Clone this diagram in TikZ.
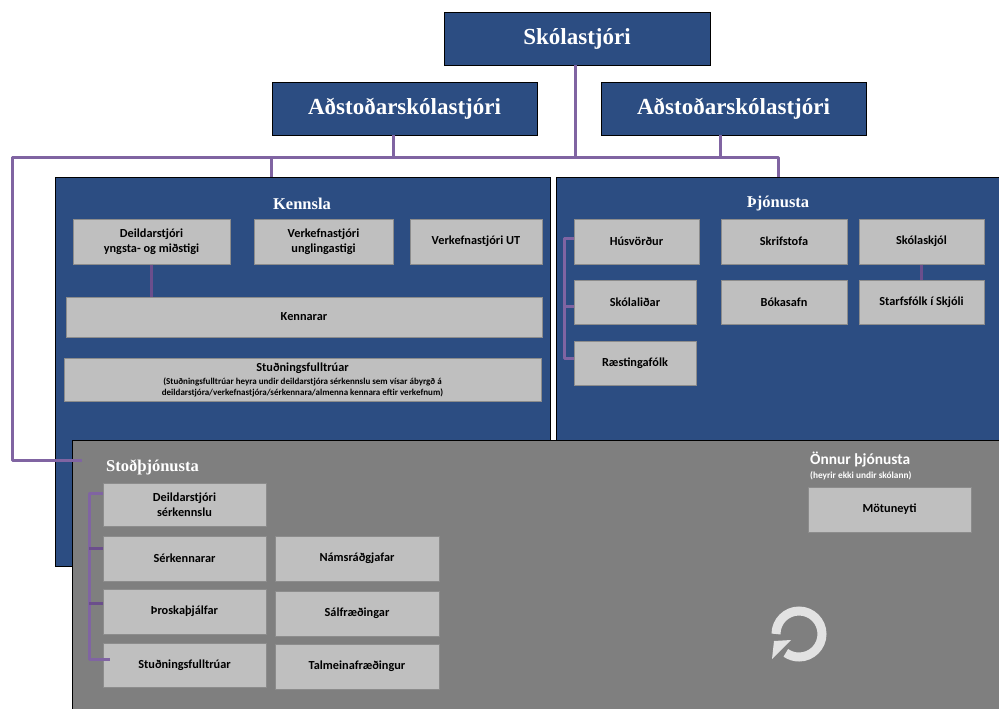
\documentclass[tikz,border=0pt]{standalone}
\usepackage{fontspec}
\setmainfont{Carlito}
\newfontfamily\titlefont{Liberation Serif}
\definecolor{panelblue}{HTML}{2C4D82}
\definecolor{panelgray}{HTML}{7F7F7F}
\definecolor{boxgray}{HTML}{BFBFBF}
\definecolor{boxedge}{HTML}{8C8C8C}
\definecolor{linkpurple}{HTML}{8064A2}
\definecolor{linkdark}{HTML}{6B4E8C}
\definecolor{arrowgray}{HTML}{E2E2E2}
\tikzset{
  headbox/.style={draw=black, fill=panelblue, text=white, inner sep=0pt,
    font=\titlefont\bfseries\fontsize{23}{27}\selectfont},
  panel/.style={draw=black, line width=1pt, inner sep=0pt},
  paneltitle/.style={text=white, inner sep=0pt, font=\titlefont\bfseries\fontsize{16.5}{19}\selectfont},
  staff/.style={draw=boxedge, line width=1pt, fill=boxgray, inner sep=0pt, align=center,
    font=\bfseries\fontsize{12.3}{15}\selectfont},
  link/.style={draw=linkpurple, line width=3pt},
  linkin/.style={draw=linkdark, line width=3pt}
}
\begin{document}
\begin{tikzpicture}[x=1pt, y=-1pt]
  \useasboundingbox (0,0) rectangle (999,709);

  % panels
  \node[panel, fill=panelblue, minimum width=495pt, minimum height=389pt] (kennsla) at (302.5,371.5) {};
  \node[panel, fill=panelblue, minimum width=443pt, minimum height=273pt] (thjon) at (777.5,313.5) {};
  \node[panel, fill=panelgray, minimum width=927pt, minimum height=269pt] (stod) at (535.5,574.5) {};

  % top of the chart
  \node[headbox, minimum width=266pt, minimum height=53pt] (skola) at (577,38.5) {Skólastjóri};
  \node[headbox, minimum width=265pt, minimum height=53pt] (adst1) at (404.5,108.5) {Aðstoðarskólastjóri};
  \node[headbox, minimum width=265pt, minimum height=53pt] (adst2) at (733.5,108.5) {Aðstoðarskólastjóri};

  \node[paneltitle] (kennslat) at (302,204) {Kennsla};
  \node[paneltitle] (thjont) at (778,204) {Þjónusta};
  \node[paneltitle, anchor=west] (stodt) at (106,467) {Stoðþjónusta};
  \node[anchor=west, text=white, inner sep=0pt, font=\bfseries\fontsize{15.4}{18}\selectfont] (onnur) at (810,460) {Önnur þjónusta};
  \node[anchor=west, text=white, inner sep=0pt, font=\bfseries\fontsize{9.3}{10}\selectfont] (onnursub) at (810,476) {(heyrir ekki undir skólann)};

  % Kennsla
  \node[staff, minimum width=157pt, minimum height=45pt] (deild) at (151.5,241.5) {Deildarstjóri\\yngsta- og miðstigi};
  \node[staff, minimum width=139pt, minimum height=45pt] (verk) at (323.5,241.5) {Verkefnastjóri\\unglingastigi};
  \node[staff, minimum width=132pt, minimum height=45pt] (verkut) at (476,241.5) {Verkefnastjóri UT};
  \node[staff, minimum width=476pt, minimum height=40pt] (kenn) at (304,317) {Kennarar};
  \node[staff, minimum width=477pt, minimum height=43pt] (studn) at (302.5,379.5) {Stuðningsfulltrúar\\[-2pt]
    \fontsize{9}{11}\selectfont (Stuðningsfulltrúar heyra undir deildarstjóra sérkennslu sem vísar ábyrgð á\\[-4pt]
    \fontsize{9}{11}\selectfont deildarstjóra/verkefnastjóra/sérkennara/almenna kennara eftir verkefnum)};

  % Þjónusta
  \node[staff, minimum width=125pt, minimum height=45pt] (hus) at (636.5,241.5) {Húsvörður};
  \node[staff, minimum width=126pt, minimum height=45pt] (skrif) at (784,241.5) {Skrifstofa};
  \node[staff, minimum width=125pt, minimum height=45pt] (skjol) at (921.5,241.5) {Skólaskjól};
  \node[staff, minimum width=122pt, minimum height=44pt] (lidar) at (635,302) {Skólaliðar};
  \node[staff, minimum width=126pt, minimum height=44pt] (boka) at (784,302) {Bókasafn};
  \node[staff, minimum width=125pt, minimum height=44pt] (starf) at (921.5,302) {Starfsfólk í Skjóli};
  \node[staff, minimum width=122pt, minimum height=44pt] (raest) at (635,363) {Ræstingafólk};

  % Stoðþjónusta
  \node[staff, minimum width=163pt, minimum height=43pt] (deildsk) at (184.5,504.5) {Deildarstjóri\\sérkennslu};
  \node[staff, minimum width=163pt, minimum height=45pt] (serk) at (184.5,558.5) {Sérkennarar};
  \node[staff, minimum width=163pt, minimum height=45pt] (thros) at (184.5,611.5) {Þroskaþjálfar};
  \node[staff, minimum width=163pt, minimum height=44pt] (stud) at (184.5,665) {Stuðningsfulltrúar};
  \node[staff, minimum width=164pt, minimum height=45pt] (nams) at (357,558.5) {Námsráðgjafar};
  \node[staff, minimum width=164pt, minimum height=45pt] (salf) at (357,613.5) {Sálfræðingar};
  \node[staff, minimum width=164pt, minimum height=45pt] (talm) at (357,666.5) {Talmeinafræðingur};
  \node[staff, minimum width=163pt, minimum height=45pt] (motu) at (889.5,509.5) {Mötuneyti};

  % connectors
  \coordinate (bus) at (575,157);
  \coordinate (busl) at (12,157);
  \coordinate (busr) at (778,157);
  \coordinate (stodin) at (82,460);
  \path[link] (skola.south -| bus) -- (bus);
  \path[link, line join=round] (stodin) -- (stodin -| busl) -- (busl) -- (busr) -- (busr |- thjon.north);
  \path[link] (271,157) -- (271,177);
  \path[link] (adst1.south -| 393,0) -- (393,157);
  \path[link] (adst2.south -| 720,0) -- (720,157);

  \path[linkin] (deild.south) -- (deild.south |- kenn.north);
  \path[linkin] (skjol.south) -- (skjol.south |- starf.north);

  \coordinate (brt) at (564,238);
  \path[link, line join=round] (hus.west |- brt) -- (brt) -- (564,358) -- (raest.west |- 0,358);
  \path[link] (564,306) -- (lidar.west |- 0,306);

  \coordinate (brs) at (89,493);
  \path[link, line join=round] (deildsk.west |- brs) -- (brs) -- (89,659) -- (110,659);
  \path[linkin] (89,548) -- (serk.west |- 0,548);
  \path[linkin] (89,603) -- (thros.west |- 0,603);

  % round arrow
  \draw[arrowgray, line width=9pt] (776,634) arc[start angle=180, end angle=-125, radius=23pt];
  \fill[arrowgray] (772,659) -- (774,641) -- (791,640) -- cycle;
\end{tikzpicture}
\end{document}
